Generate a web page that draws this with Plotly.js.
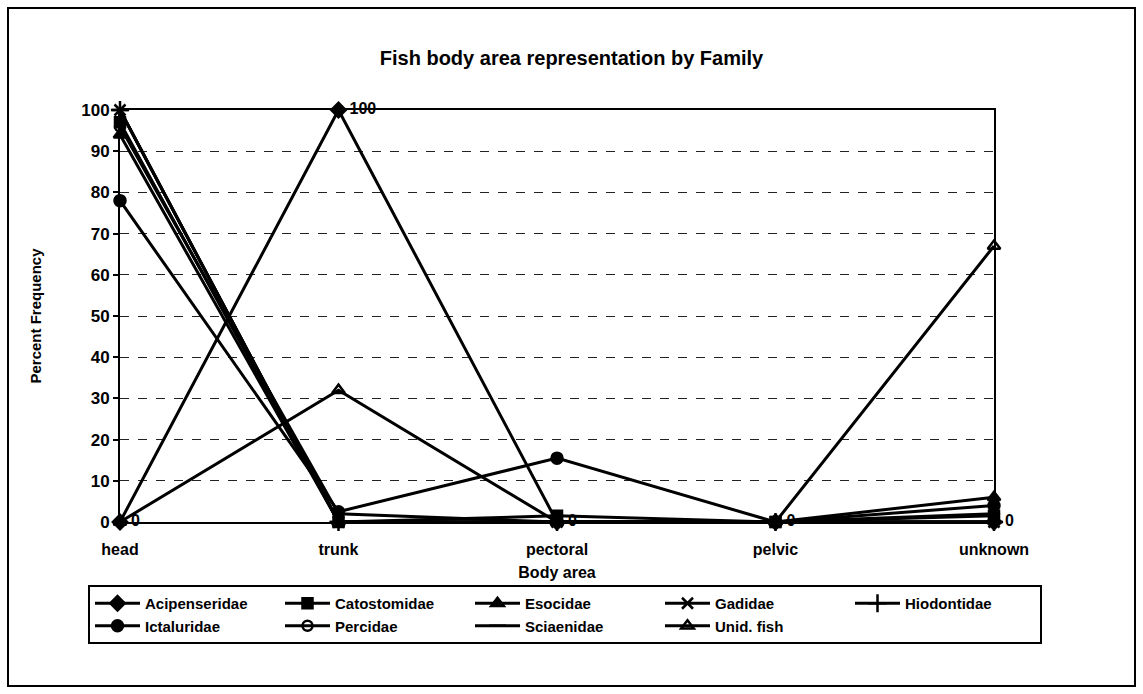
<!DOCTYPE html>
<html>
<head>
<meta charset="utf-8">
<script src="https://cdn.plot.ly/plotly-3.0.1.min.js"></script>
<style>
html,body{margin:0;padding:0;background:#fff;}
#chart{width:1143px;height:694px;}
</style>
</head>
<body>
<div id="chart"></div>
<script>
// ---- data ----
var categories = ["head", "trunk", "pectoral", "pelvic", "unknown"];
var seriesNames = ["Acipenseridae", "Catostomidae", "Esocidae", "Gadidae", "Hiodontidae",
                   "Ictaluridae", "Percidae", "Sciaenidae", "Unid. fish"];
var acipenseridae = [0, 100, 0, 0, 0];
var catostomidae  = [97, 0, 1.5, 0, 1.5];
var esocidae      = [94, 0, 0, 0, 6];
var gadidae       = [100, 0, 0, 0, 0];
var hiodontidae   = [100, 0, 0, 0, 0];
var ictaluridae   = [78, 2.5, 15.5, 0, 4];
var percidae      = [96, 2, 0, 0, 2];
var sciaenidae    = [100, 0, 0, 0, 0];
var unidFish      = [0, 32, 0, 0, 67];
var acipLabels    = ["0", "100", "0", "0", "0"];
var yTickVals     = [0, 10, 20, 30, 40, 50, 60, 70, 80, 90, 100];

var seriesValues = [acipenseridae, catostomidae, esocidae, gadidae, hiodontidae,
                    ictaluridae, percidae, sciaenidae, unidFish];
var symbols = ["diamond", "square", "triangle-up", "x-thin-open", "cross-thin-open",
               "circle", "circle-open", "line-ew-open", "triangle-up-open"];
var sizes = [11, 10, 11, 11, 13, 11, 10, 12, 11];

var FONT = "Liberation Sans, Arial, sans-serif";
var traces = [];
for (var i = 0; i < seriesNames.length; i++) {
  traces.push({
    type: "scatter",
    mode: "lines+markers",
    name: seriesNames[i],
    x: categories,
    y: seriesValues[i],
    cliponaxis: false,
    line: {color: "#000", width: 3},
    marker: {symbol: symbols[i], size: sizes[i], color: "#000",
             line: {color: "#000", width: 2.5}}
  });
}
// data labels of first series
traces.push({
  type: "scatter",
  mode: "markers+text",
  x: categories,
  y: acipenseridae,
  text: acipLabels,
  textposition: "middle right",
  textfont: {family: FONT, size: 16, color: "#000", weight: "bold"},
  marker: {size: 16, color: "rgba(0,0,0,0)", line: {width: 0}},
  showlegend: false,
  cliponaxis: false,
  hoverinfo: "skip"
});

var L = 120, R = 994, T = 110, B = 522, W = 1143, H = 694;
function px(x) { return (x - L) / (R - L); }
function py(y) { return (B - y) / (B - T); }

var layout = {
  width: W, height: H,
  margin: {l: L, r: W - R, t: T, b: H - B, pad: 0},
  paper_bgcolor: "#fff",
  plot_bgcolor: "#fff",
  font: {family: FONT, color: "#000", size: 14, weight: "bold"},
  title: {text: "Fish body area representation by Family",
          font: {family: FONT, size: 20, color: "#000", weight: "bold"},
          xref: "container", x: 0.5, xanchor: "center",
          yref: "container", y: (H - 58) / H, yanchor: "middle"},
  xaxis: {
    type: "category",
    range: [0, 4],
    showline: true, linecolor: "#000", linewidth: 2, mirror: true,
    showgrid: false, zeroline: false,
    ticks: "", ticklabelstandoff: 12,
    tickfont: {family: FONT, size: 16, color: "#000", weight: "bold"},
    title: {text: "Body area", standoff: 10,
            font: {family: FONT, size: 16, color: "#000", weight: "bold"}}
  },
  yaxis: {
    range: [0, 100],
    tickvals: yTickVals,
    showline: true, linecolor: "#000", linewidth: 2, mirror: true,
    showgrid: true, gridcolor: "#222", gridwidth: 1, griddash: "dash",
    zeroline: false,
    ticks: "outside", ticklen: 5, tickwidth: 2, tickcolor: "#000",
    tickfont: {family: FONT, size: 17, color: "#000", weight: "bold"},
    title: {text: "Percent Frequency", standoff: 36,
            font: {family: FONT, size: 15, color: "#000", weight: "bold"}}
  },
  legend: {
    orientation: "h",
    x: px(88), xanchor: "left",
    y: py(585), yanchor: "top",
    bordercolor: "#000", borderwidth: 2,
    bgcolor: "#fff",
    itemwidth: 45,
    entrywidth: 130, entrywidthmode: "pixels",
    font: {family: FONT, size: 15, color: "#000", weight: "bold"},
    traceorder: "normal",
    tracegroupgap: 0
  },
  shapes: [{
    type: "rect", xref: "paper", yref: "paper",
    x0: px(8), x1: px(1135), y0: py(686), y1: py(8),
    line: {color: "#000", width: 2}, fillcolor: "rgba(0,0,0,0)", layer: "below"
  }],
  showlegend: true
};

Plotly.newPlot("chart", traces, layout, {displayModeBar: false, staticPlot: true});
</script>
</body>
</html>
